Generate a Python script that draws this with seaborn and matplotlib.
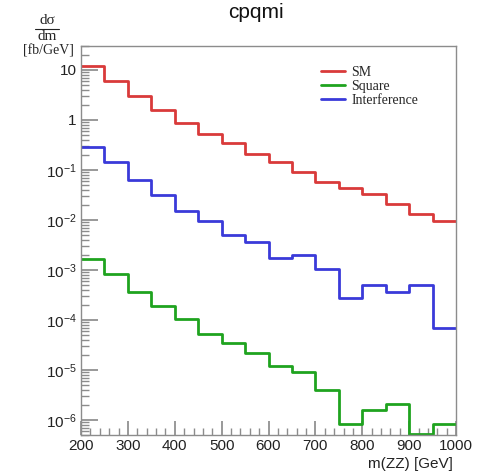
import numpy as np
import pandas as pd
import seaborn as sns
import matplotlib
matplotlib.use("Agg")
import matplotlib.pyplot as plt
from matplotlib.ticker import FuncFormatter, FixedLocator, LogLocator, MultipleLocator, NullFormatter

# ---- data ----
bin_edges = [200, 250, 300, 350, 400, 450, 500, 550, 600, 650, 700, 750, 800, 850, 900, 950, 1000]
sm = [11.9, 6.08, 2.96, 1.55, 0.867, 0.516, 0.339, 0.208, 0.141, 0.0887, 0.056, 0.0425, 0.0323, 0.0207, 0.0129, 0.0096]
square = [1.65e-3, 8.17e-4, 3.62e-4, 1.93e-4, 1.03e-4, 5.19e-5, 3.48e-5, 2.23e-5, 1.21e-5, 9.17e-6, 4.01e-6, 8.4e-7, 1.6e-6, 2.04e-6, 5.3e-7, 8.3e-7]
interference = [0.288, 0.141, 0.0622, 0.0313, 0.0150, 0.0096, 0.0051, 0.00366, 0.00175, 0.00201, 0.00106, 0.000275, 0.000492, 0.000357, 0.000492, 6.9e-5]
series_names = ["SM", "Square", "Interference"]
series_colors = ["#d93a3a", "#1fa31f", "#3a3ad9"]
y_major_ticks = [1e-6, 1e-5, 1e-4, 1e-3, 1e-2, 1e-1, 1, 10]
title = "cpqmi"
x_label = "m(ZZ) [GeV]"

sns.set_theme(style="ticks")
plt.rcParams["font.family"] = ["Liberation Sans", "DejaVu Sans"]
plt.rcParams["mathtext.default"] = "regular"

fig = plt.figure(figsize=(4.92, 4.76), dpi=100)
ax = fig.add_axes([81 / 492, 41 / 476, 375 / 492, 389 / 476])

for name, vals, col in zip(series_names, [sm, square, interference], series_colors):
    df = pd.DataFrame({"x": bin_edges, "y": list(vals) + [vals[-1]]})
    sns.lineplot(data=df, x="x", y="y", ax=ax, color=col, lw=2.0,
                 drawstyle="steps-post", label=name)

ax.set_yscale("log")
ax.set_xlim(200, 1000)
ax.set_ylim(5e-7, 30)
ax.set_xlabel("")
ax.set_ylabel("")

gray = "#8c8c8c"
for s in ax.spines.values():
    s.set_color(gray)
    s.set_linewidth(1.0)

ax.xaxis.set_major_locator(MultipleLocator(100))
ax.xaxis.set_minor_locator(MultipleLocator(20))
ax.yaxis.set_major_locator(FixedLocator(y_major_ticks))
ax.yaxis.set_minor_locator(LogLocator(base=10, subs=np.arange(2, 10), numticks=20))

def yfmt(v, pos):
    e = int(round(np.log10(v)))
    if e == 0:
        return "1"
    if e == 1:
        return "10"
    return r"$10^{%d}$" % e

ax.yaxis.set_major_formatter(FuncFormatter(yfmt))
ax.yaxis.set_minor_formatter(NullFormatter())
ax.tick_params(axis="both", which="both", direction="in", color=gray, top=False, right=False,
               labelcolor="#222222")
ax.tick_params(axis="y", which="major", length=12, labelsize=11, pad=3)
ax.tick_params(axis="y", which="minor", length=6)
ax.tick_params(axis="x", which="major", length=10, labelsize=11, pad=3)
ax.tick_params(axis="x", which="minor", length=5)

fig.text(256 / 492, 1 - 13 / 476, title, ha="center", va="center", fontsize=15, color="#111111")
fig.text(453 / 492, 1 - 464 / 476, x_label, ha="right", va="center", fontsize=11, color="#222222")

serif = ["Liberation Serif", "DejaVu Serif"]
fig.text(47 / 492, 1 - 21 / 476, "dσ", ha="center", va="center", fontsize=11, family=serif)
fig.add_artist(plt.Line2D([35 / 492, 59 / 492], [1 - 29 / 476, 1 - 29 / 476], color="#222222", lw=0.8))
fig.text(47 / 492, 1 - 37 / 476, "dm", ha="center", va="center", fontsize=11, family=serif)
fig.text(48 / 492, 1 - 51 / 476, "[fb/GeV]", ha="center", va="center", fontsize=10, family=serif)

leg = ax.legend(loc="upper left", bbox_to_anchor=(321 / 492, 1 - 66 / 476),
                bbox_transform=fig.transFigure, frameon=False, borderpad=0,
                borderaxespad=0, handlelength=1.75, handletextpad=0.45,
                labelspacing=0.08, prop={"family": serif, "size": 10})
for line in leg.get_lines():
    line.set_linewidth(2.0)

fig.savefig("out.png", dpi=100)
